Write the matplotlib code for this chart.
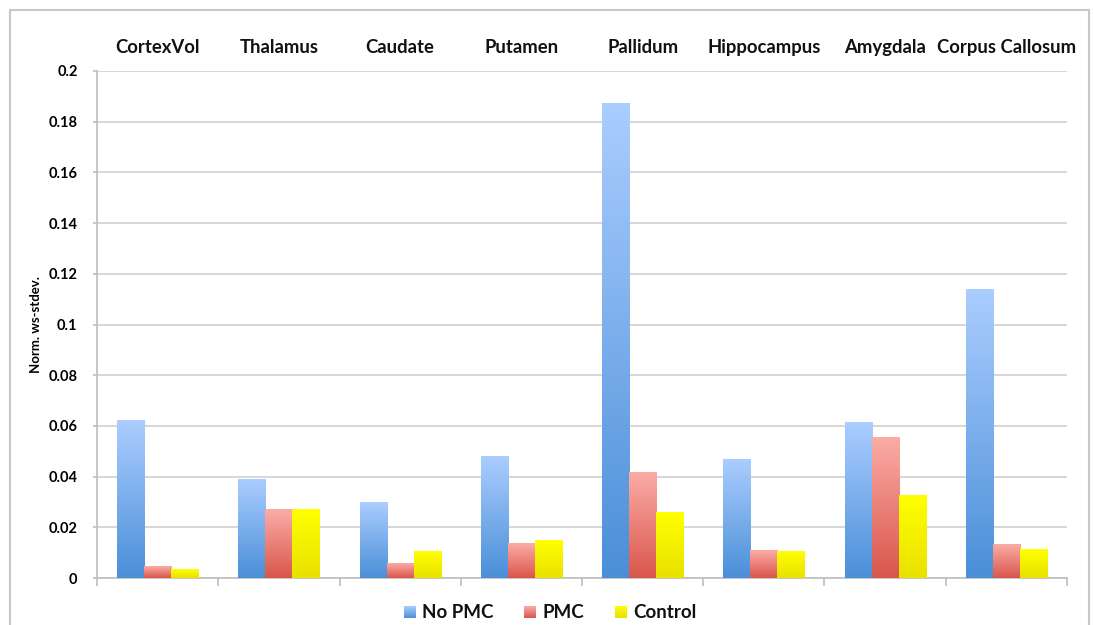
import matplotlib
matplotlib.use('Agg')
import matplotlib.pyplot as plt
import matplotlib.patches as patches
from matplotlib.colors import LinearSegmentedColormap
import numpy as np

plt.rcParams['font.family'] = ['Lato', 'DejaVu Sans']
plt.rcParams['font.weight'] = 'bold'

# Regions and per-group values
regions = ['CortexVol', 'Thalamus', 'Caudate', 'Putamen', 'Pallidum',
           'Hippocampus', 'Amygdala', 'Corpus Callosum']
no_pmc = [0.062, 0.039, 0.0296, 0.048, 0.187, 0.0469, 0.0613, 0.114]
pmc = [0.0047, 0.027, 0.0058, 0.0137, 0.0418, 0.0108, 0.0553, 0.0134]
control = [0.0033, 0.027, 0.0103, 0.0146, 0.0259, 0.0104, 0.0325, 0.0113]
series_names = ['No PMC', 'PMC', 'Control']
yticks = [0, 0.02, 0.04, 0.06, 0.08, 0.1, 0.12, 0.14, 0.16, 0.18, 0.2]

# bottom colour -> top colour for each series
grads = [('#4a8fd8', '#abcdff'), ('#d9564b', '#fbaca6'), ('#e9e100', '#ffff00')]
cmaps = [LinearSegmentedColormap.from_list(n, g) for n, g in zip(series_names, grads)]
grad = np.linspace(0, 1, 256).reshape(-1, 1)

fig = plt.figure(figsize=(10.94, 6.25), dpi=100)
ax = fig.add_axes([0.0887, 0.0752, 0.8866, 0.8112])

# outer frame
fig.patches.append(patches.Rectangle((10 / 1094, -0.02), 1079 / 1094, 1.02 - 10 / 625,
                                     transform=fig.transFigure, fill=False,
                                     edgecolor='#c8c8c8', linewidth=1.5))

n = len(regions)
bw = 0.223
x = np.arange(n)
for k, vals in enumerate([no_pmc, pmc, control]):
    offs = (k - 1) * bw
    for xi, v in zip(x, vals):
        x0 = xi + offs - bw / 2
        ax.imshow(grad, cmap=cmaps[k], origin='lower', aspect='auto',
                  extent=(x0, x0 + bw, 0, v), zorder=3, interpolation='bilinear')

ax.set_xlim(-0.5, n - 0.5)
ax.set_ylim(0, 0.2)
ax.set_yticks(yticks)
ax.set_yticklabels([f'{t:g}' for t in yticks], fontsize=10.5, fontweight='bold')
ax.yaxis.grid(True, color='#d4d4d4', linewidth=1.3, zorder=0)
ax.set_axisbelow(True)

ax.set_xticks(np.arange(n + 1) - 0.5)
ax.set_xticklabels([])
ax.tick_params(axis='x', length=6, width=1.2, color='#bdbdbd', direction='out')
ax.tick_params(axis='y', length=3, width=1.2, color='#bdbdbd', pad=11)

for s in ['top', 'right']:
    ax.spines[s].set_visible(False)
for s in ['left', 'bottom']:
    ax.spines[s].set_color('#bdbdbd')
    ax.spines[s].set_linewidth(1.2)

ax.set_ylabel('Norm. ws-stdev.', fontsize=9.5, fontweight='bold', labelpad=5)

# region names above the plot
for xi, name in zip(x, regions):
    ax.text(xi, 1.046, name, transform=ax.get_xaxis_transform(), ha='center',
            va='center', fontsize=13.3, fontweight='bold', color='#111111')

# legend drawn below the axis
leg_items = [(404 / 1094, 'No PMC'), (524 / 1094, 'PMC'), (615 / 1094, 'Control')]
sq_w = 12 / 1094
sq_h = 12 / 625
y_sq = 1 - 618 / 625
for k, (lx, name) in enumerate(leg_items):
    lax = fig.add_axes([lx, y_sq, sq_w, sq_h])
    lax.imshow(grad, cmap=cmaps[k], origin='lower', aspect='auto',
               interpolation='bilinear')
    lax.axis('off')
    fig.text(lx + sq_w + 6 / 1094, 1 - 613 / 625, name, ha='left', va='center',
             fontsize=13.5, fontweight='bold', color='#111111')

fig.savefig('out.png', dpi=100, facecolor='white')
